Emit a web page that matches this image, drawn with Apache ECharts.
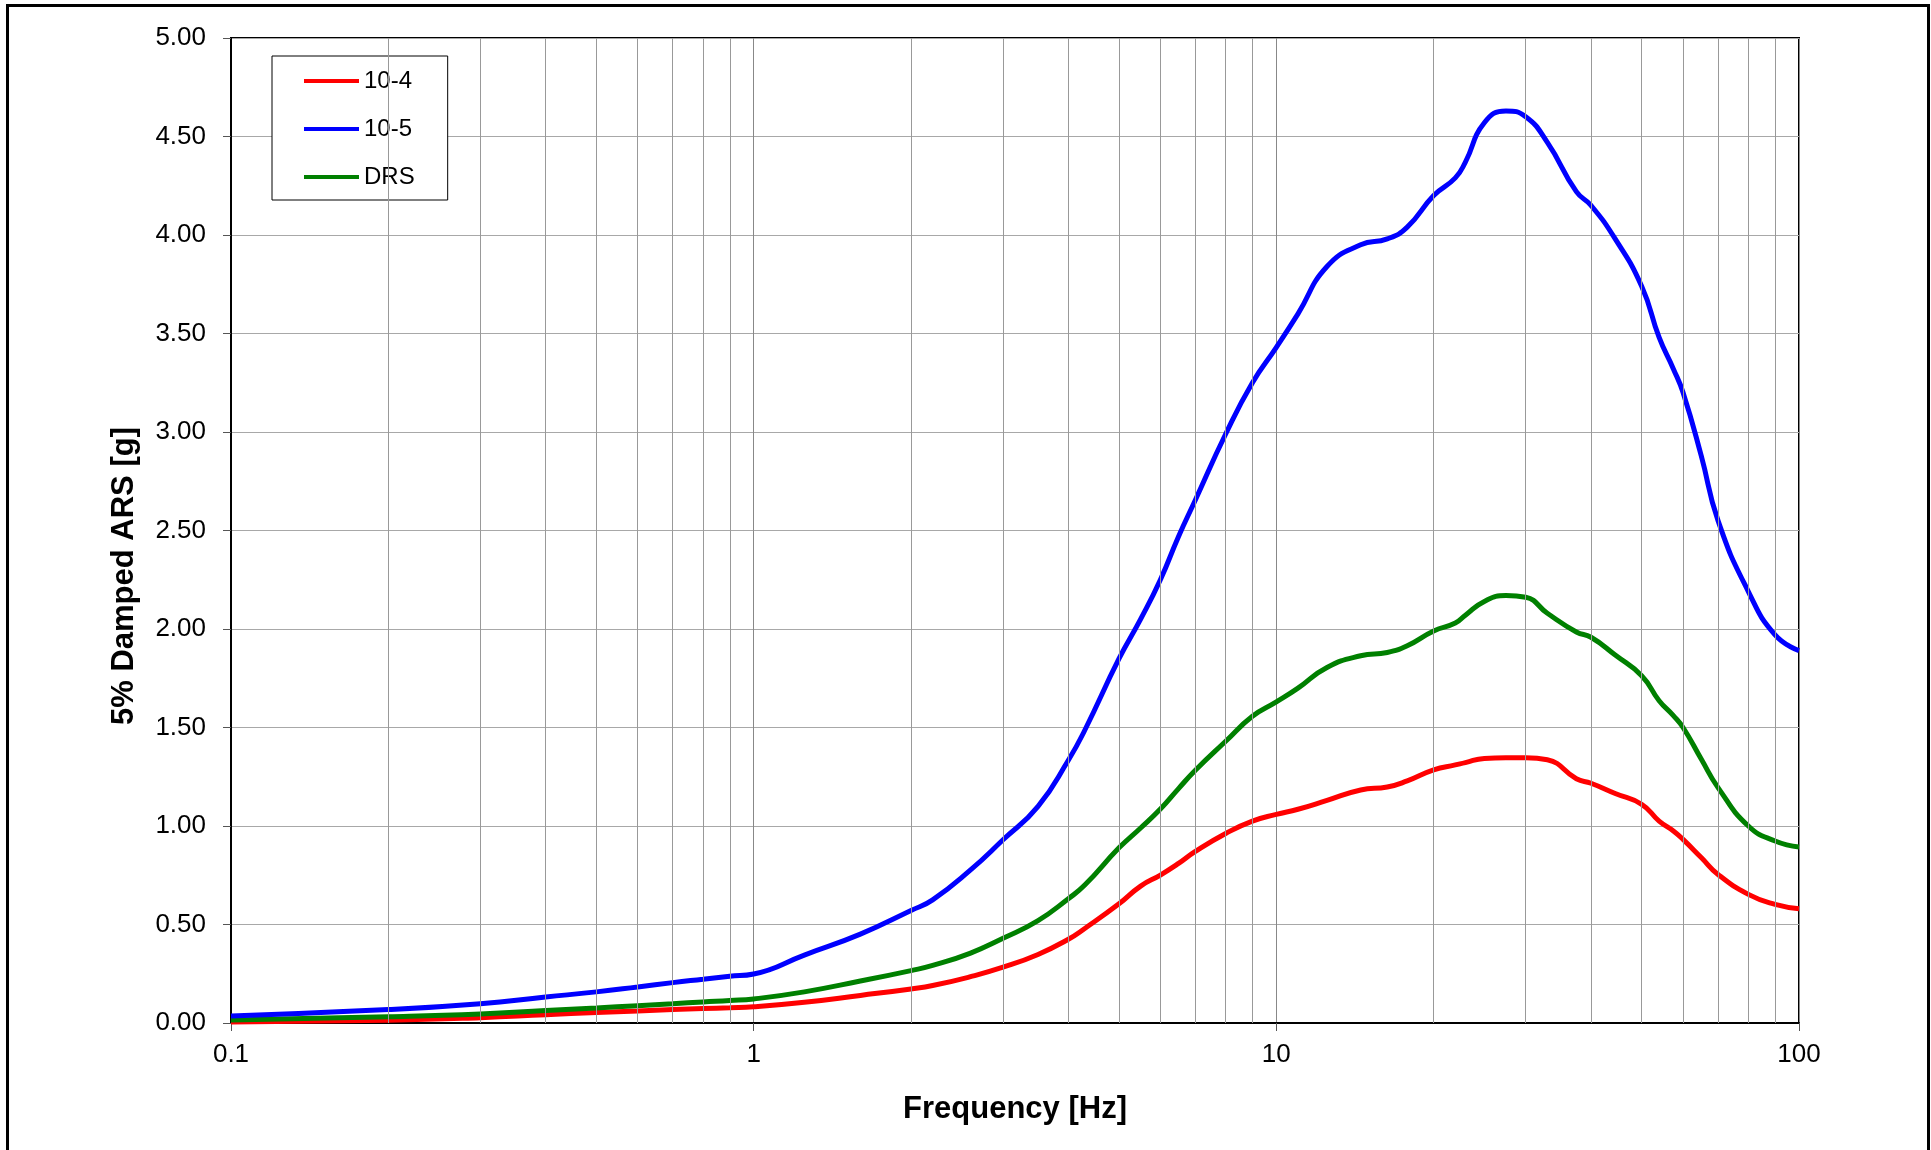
<!DOCTYPE html>
<html>
<head>
<meta charset="utf-8">
<title>5% Damped ARS</title>
<script src="https://cdn.jsdelivr.net/npm/echarts@6/dist/echarts.min.js"></script>
<style>
  html, body { margin: 0; padding: 0; background: #fff; }
  #chart { width: 1931px; height: 1150px; }
</style>
</head>
<body>
<div id="chart"></div>
<script>
// Frequencies [Hz] shared by all spectra
const frequencies = [0.1, 0.2, 0.3, 0.4, 0.5, 0.6, 0.7, 0.8, 0.9, 1, 1.25, 1.6, 2, 2.2, 2.6, 3, 3.5, 4, 4.3, 5,
  5.5, 6, 6.5, 7, 8, 9, 10, 11, 12.5, 14.5, 16.3, 17.8, 20, 22, 23, 25, 27.5, 30, 33, 37.5, 40, 44.5, 50,
  54, 57.5, 60, 65, 70, 80, 90, 100];

// Spectral accelerations [g]
const ars10_4 = [0.005, 0.014, 0.027, 0.042, 0.053, 0.061, 0.068, 0.073, 0.077, 0.082, 0.105, 0.140, 0.173, 0.19, 0.235, 0.283, 0.348, 0.425, 0.48, 0.605,
  0.695, 0.751, 0.81, 0.871, 0.962, 1.025, 1.059, 1.085, 1.13, 1.183, 1.198, 1.229, 1.285, 1.31, 1.322, 1.343, 1.346, 1.346, 1.336, 1.24, 1.217, 1.165, 1.11,
  1.025, 0.975, 0.932, 0.84, 0.754, 0.653, 0.602, 0.58];

const ars10_5 = [0.036, 0.068, 0.098, 0.132, 0.158, 0.183, 0.205, 0.222, 0.237, 0.249, 0.345, 0.451, 0.571, 0.625, 0.777, 0.93, 1.10, 1.334, 1.486, 1.849,
  2.05, 2.25, 2.47, 2.655, 2.99, 3.25, 3.43, 3.60, 3.84, 3.95, 3.98, 4.04, 4.20, 4.29, 4.37, 4.57, 4.63, 4.60, 4.47, 4.22, 4.15, 3.98, 3.74,
  3.48, 3.32, 3.20, 2.88, 2.55, 2.19, 1.97, 1.89];

const arsDRS = [0.015, 0.032, 0.046, 0.063, 0.076, 0.088, 0.098, 0.107, 0.114, 0.122, 0.158, 0.213, 0.266, 0.292, 0.355, 0.43, 0.52, 0.631, 0.70, 0.889,
  0.99, 1.086, 1.19, 1.283, 1.43, 1.557, 1.63, 1.70, 1.805, 1.864, 1.881, 1.915, 1.99, 2.03, 2.07, 2.14, 2.17, 2.161, 2.08, 1.985, 1.958, 1.868, 1.763,
  1.636, 1.56, 1.50, 1.34, 1.195, 1.0, 0.924, 0.893];

const seriesNames = ['10-4', '10-5', 'DRS'];
const seriesColors = ['#ff0000', '#0000ff', '#008000'];
const seriesValues = [ars10_4, ars10_5, arsDRS];

// Intermediate log-decade grid positions (2..9 in every decade)
const minorGrid = [0.2, 0.3, 0.4, 0.5, 0.6, 0.7, 0.8, 0.9, 2, 3, 4, 5, 6, 7, 8, 9, 20, 30, 40, 50, 60, 70, 80, 90];

const FONT = '"Liberation Sans", Arial, sans-serif';

const chart = echarts.init(document.getElementById('chart'), null, { renderer: 'canvas' });

const lineSeries = seriesNames.map((name, i) => ({
  name: name,
  type: 'line',
  data: frequencies.map((f, k) => [f, seriesValues[i][k]]),
  smooth: 0.5,
  showSymbol: false,
  symbol: 'none',
  lineStyle: { color: seriesColors[i], width: 5 },
  itemStyle: { color: seriesColors[i] },
  z: 3
}));

// Vertical grid lines between the decades
const gridSeries = {
  name: 'minor-grid',
  type: 'line',
  data: [],
  silent: true,
  z: 1,
  markLine: {
    silent: true,
    symbol: ['none', 'none'],
    label: { show: false },
    lineStyle: { color: '#999', width: 1, type: 'solid' },
    animation: false,
    data: minorGrid.map(v => ({ xAxis: v }))
  }
};

chart.setOption({
  animation: false,
  backgroundColor: '#ffffff',
  grid: {
    left: 231, top: 38, width: 1568, height: 985,
    show: true, borderColor: '#000', borderWidth: 2, backgroundColor: 'transparent'
  },
  legend: {
    data: seriesNames,
    orient: 'vertical',
    left: 272, top: 56,
    padding: [13, 33, 11, 32],
    itemWidth: 55, itemHeight: 4,
    itemGap: 24,
    icon: 'rect',
    borderColor: '#000', borderWidth: 1,
    backgroundColor: '#fff',
    textStyle: { fontFamily: FONT, fontSize: 24, color: '#000', lineHeight: 24 }
  },
  xAxis: {
    type: 'log',
    logBase: 10,
    min: 0.1, max: 100,
    name: 'Frequency [Hz]',
    nameLocation: 'middle',
    nameGap: 71,
    nameTextStyle: { fontFamily: FONT, fontSize: 31, fontWeight: 'bold', color: '#000' },
    axisLine: { show: true, onZero: false, lineStyle: { color: '#000', width: 2 } },
    axisTick: { show: true, length: 8, inside: false, lineStyle: { color: '#555', width: 1 } },
    axisLabel: { fontFamily: FONT, fontSize: 26, color: '#000', margin: 19 },
    splitLine: { show: true, lineStyle: { color: '#888', width: 1 } },
    minorTick: { show: false },
    minorSplitLine: { show: false }
  },
  yAxis: {
    type: 'value',
    min: 0, max: 5, interval: 0.5,
    axisLine: { show: true, lineStyle: { color: '#000', width: 2 } },
    axisTick: { show: true, length: 8, lineStyle: { color: '#555', width: 1 } },
    axisLabel: { fontFamily: FONT, fontSize: 26, color: '#000', margin: 25, formatter: v => v.toFixed(2) },
    splitLine: { show: true, lineStyle: { color: '#a8a8a8', width: 1 } }
  },
  graphic: [
    {
      type: 'rect',
      shape: { x: 7.5, y: 5.5, width: 1921, height: 1300 },
      style: { fill: 'none', stroke: '#000', lineWidth: 3 },
      silent: true, z: 0
    },
    {
      type: 'text',
      x: 124, y: 576,
      rotation: Math.PI / 2,
      style: {
        text: '5% Damped ARS [g]',
        font: 'bold 31px ' + FONT,
        fill: '#000',
        align: 'center',
        verticalAlign: 'middle'
      },
      silent: true
    }
  ],
  series: [gridSeries, lineSeries[0], lineSeries[2], lineSeries[1]]
});
</script>
</body>
</html>
